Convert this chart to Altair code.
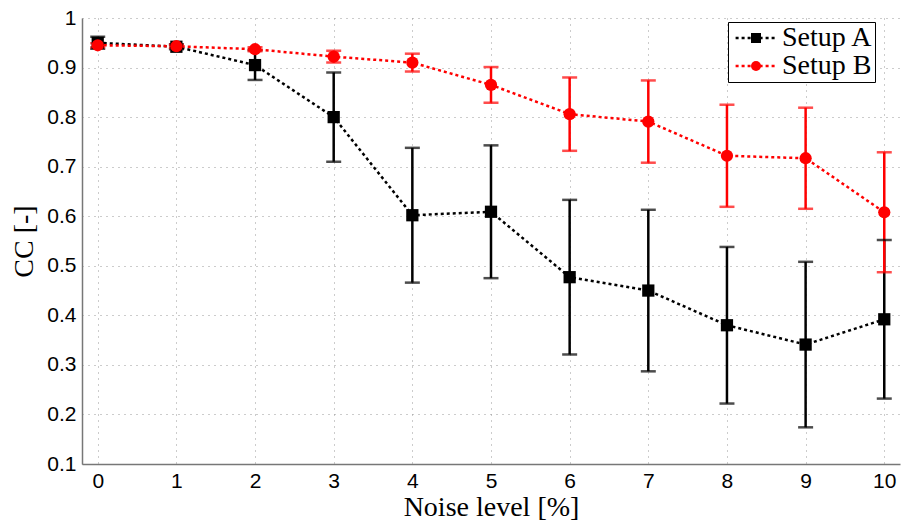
import altair as alt
import pandas as pd

# ---- data ----
noise = [0, 1, 2, 3, 4, 5, 6, 7, 8, 9, 10]
cc_a = [0.950, 0.942, 0.905, 0.800, 0.602, 0.609, 0.477, 0.450, 0.380, 0.341, 0.392]
err_a = [0.012, 0.005, 0.030, 0.090, 0.136, 0.134, 0.156, 0.163, 0.158, 0.167, 0.160]
cc_b = [0.945, 0.943, 0.937, 0.922, 0.910, 0.865, 0.806, 0.791, 0.722, 0.717, 0.608]
err_b = [0.004, 0.003, 0.004, 0.012, 0.018, 0.036, 0.074, 0.083, 0.103, 0.102, 0.121]
series = ["Setup A", "Setup B"]
colors = ["#000000", "#ff0000"]
shapes = ["square", "circle"]
y_ticks = [0.1, 0.2, 0.3, 0.4, 0.5, 0.6, 0.7, 0.8, 0.9, 1.0]
x_ticks = noise

rows = []
for name, vals, errs in [(series[0], cc_a, err_a), (series[1], cc_b, err_b)]:
    for x, v, e in zip(noise, vals, errs):
        rows.append({"noise": x, "cc": v, "lo": v - e, "hi": v + e,
                     "setup": name, "setup_m": name})
df = pd.DataFrame(rows)

x_enc = alt.X("noise:Q", scale=alt.Scale(domain=[-0.2, 10.2], nice=False, zero=False),
              axis=alt.Axis(values=x_ticks, title="Noise level [%]", format="d"))
y_scale = alt.Scale(domain=[0.1, 1.0], nice=False, zero=False)
y_axis = alt.Axis(values=y_ticks, title="CC [-]", format=".1~f")

LEG_X, LEG_Y = 646, 4
LEG_FONT = 28
common_legend = dict(
    title=None, orient="none", legendX=LEG_X, legendY=LEG_Y, padding=2,
    labelFont="Liberation Serif", labelFontSize=LEG_FONT, labelColor="black",
    symbolOffset=12, labelOffset=12, rowPadding=-1,
)

base = alt.Chart(df)

rules = base.mark_rule(strokeWidth=2.5).encode(
    x=x_enc,
    y=alt.Y("lo:Q", scale=y_scale, axis=y_axis),
    y2="hi:Q",
    color=alt.Color("setup:N", scale=alt.Scale(range=colors), legend=None),
)

caps = base.transform_fold(["lo", "hi"], as_=["end", "val"]).mark_tick(
    orient="horizontal", size=15, thickness=2.5
).encode(
    x=x_enc,
    y=alt.Y("val:Q", scale=y_scale, axis=y_axis),
    color=alt.Color("setup:N", scale=alt.Scale(range=colors), legend=None),
)

lines = base.mark_line(strokeWidth=2.5, strokeDash=[3, 3]).encode(
    x=x_enc,
    y=alt.Y("cc:Q", scale=y_scale, axis=y_axis),
    stroke=alt.Stroke(
        "setup:N",
        scale=alt.Scale(range=colors),
        legend=alt.Legend(
            **common_legend,
            strokeColor="black",
            fillColor="white",
            symbolType="M-3.4,0H3.4",
            symbolSize=144,
            symbolStrokeWidth=2.5,
            symbolDash=[3, 3],
            zindex=0,
        ),
    ),
)

points = base.mark_point(filled=True, opacity=1, size=150).encode(
    x=x_enc,
    y=alt.Y("cc:Q", scale=y_scale, axis=y_axis),
    fill=alt.Fill(
        "setup_m:N",
        scale=alt.Scale(range=colors),
        legend=alt.Legend(**common_legend, symbolSize=100, symbolStrokeWidth=0,
                          symbolOpacity=1, labelOpacity=0, zindex=1),
    ),
    shape=alt.Shape(
        "setup_m:N",
        scale=alt.Scale(range=shapes),
        legend=alt.Legend(**common_legend, symbolSize=100, symbolStrokeWidth=0,
                          symbolOpacity=1, labelOpacity=0, zindex=1),
    ),
)

chart = alt.layer(rules, caps, lines, points).properties(
    width=818,
    height=446,
    autosize=alt.AutoSizeParams(type="none"),
    padding={"left": 82, "top": 18, "right": 2, "bottom": 60},
).configure_view(
    stroke=None
).configure_axis(
    labelFont="Liberation Sans",
    labelFontSize=21,
    labelColor="black",
    titleFont="Liberation Serif",
    titleFontSize=28,
    titleFontWeight="normal",
    titleColor="black",
    domainColor="#777777",
    domainWidth=1.5,
    ticks=False,
    grid=True,
    gridColor="#999999",
    gridDash=[1, 5],
    gridWidth=1,
    gridOpacity=1,
).configure_axisX(
    labelPadding=6,
    titlePadding=2,
).configure_axisY(
    labelPadding=6,
    titlePadding=8,
)

chart.save("out.html", embed_options={"renderer": "svg", "actions": False})
